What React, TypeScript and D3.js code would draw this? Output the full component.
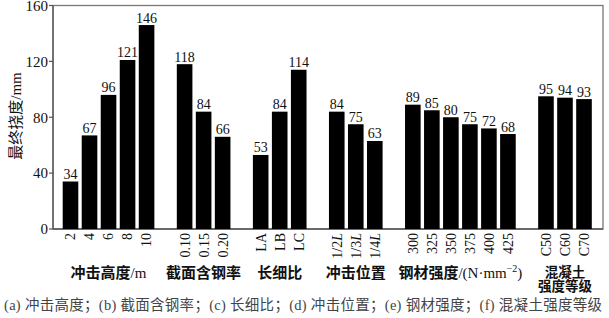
import React from "react";
import * as d3 from "d3";

const groupTitles = [["冲击高度/m"], ["截面含钢率"], ["长细比"], ["冲击位置"], ["钢材强度/(N·mm", "−2", ")"], ["混凝土", "强度等级"]];
const catHeight = ["2", "4", "6", "8", "10"];
const valHeight = [34, 67, 96, 121, 146];
const catSteelRatio = ["0.10", "0.15", "0.20"];
const valSteelRatio = [118, 84, 66];
const catSlender = ["LA", "LB", "LC"];
const valSlender = [53, 84, 114];
const catPosition = ["1/2L", "1/3L", "1/4L"];
const valPosition = [84, 75, 63];
const catStrength = ["300", "325", "350", "375", "400", "425"];
const valStrength = [89, 85, 80, 75, 72, 68];
const catConcrete = ["C50", "C60", "C70"];
const valConcrete = [95, 94, 93];
const yTicks = [0, 40, 80, 120, 160];
const yTitle = "最终挠度/mm";
const caption = "(a) 冲击高度；(b) 截面含钢率；(c) 长细比；(d) 冲击位置；(e) 钢材强度；(f) 混凝土强度等级";

const groupsCats = [catHeight, catSteelRatio, catSlender, catPosition, catStrength, catConcrete];
const groupsVals = [valHeight, valSteelRatio, valSlender, valPosition, valStrength, valConcrete];

const W = 609, H = 318;
const LATIN = "'Liberation Serif', 'Times New Roman', 'Noto Sans CJK SC', serif";

// bold only CJK runs
const cjkBold = (s: string) =>
  s.split(/([\u4e00-\u9fff]+)/).filter((p) => p.length).map((p, i) =>
    /[\u4e00-\u9fff]/.test(p) ? (
      <tspan key={i} fontWeight={600}>{p}</tspan>
    ) : (
      <tspan key={i} fontWeight={400}>{p}</tspan>
    )
  );

export default function App() {
  const bars: { cat: string; val: number; slot: number; g: number }[] = [];
  const groupSpans: { start: number; end: number }[] = [];
  let slot = 0;
  groupsCats.forEach((cats, g) => {
    const start = slot;
    cats.forEach((c, i) => {
      bars.push({ cat: c, val: groupsVals[g][i], slot, g });
      slot++;
    });
    groupSpans.push({ start, end: slot - 1 });
    slot++;
  });
  const lastSlot = slot - 2;

  const x = d3.scaleLinear().domain([0, lastSlot]).range([70.5, 584]);
  const bw = 15.6;
  const left = x(-0.92);
  const right = 603;
  const y = d3.scaleLinear().domain([0, 160]).range([229, 5.5]);

  const renderCat = (c: string) => {
    if (c.endsWith("L")) {
      return (
        <>
          {c.slice(0, -1)}
          <tspan fontStyle="italic">L</tspan>
        </>
      );
    }
    return c;
  };

  return (
    <svg width={W} height={H} style={{ position: "absolute", left: 0, top: 0, background: "#fff" }}>
      <rect x={left} y={y(160)} width={right - left} height={y(0) - y(160)} fill="none" stroke="#777" strokeWidth={1.3} />
      <line x1={left} x2={left} y1={y(160)} y2={y(0)} stroke="#555" strokeWidth={1.3} />
      <line x1={left} x2={right} y1={y(0)} y2={y(0)} stroke="#555" strokeWidth={1.3} />

      {yTicks.map((t) => (
        <g key={t}>
          <line x1={left - 4} x2={left} y1={y(t)} y2={y(t)} stroke="#555" strokeWidth={1.2} />
          <text x={left - 5} y={t === 160 ? 11 : y(t)} dy={t === 160 ? 0 : "0.35em"} textAnchor="end" fontFamily={LATIN} fontSize={15} fill="#111">
            {t}
          </text>
        </g>
      ))}

      <text
        transform={`translate(${21},${116}) rotate(-90)`}
        textAnchor="middle"
        fontFamily={LATIN}
        fontSize={15}
        fill="#111"
      >
        {yTitle}
      </text>

      {bars.map((b, i) => (
        <g key={i}>
          <rect x={x(b.slot) - bw / 2} y={y(b.val)} width={bw} height={y(0) - y(b.val)} fill="#000" />
          <text x={x(b.slot)} y={y(b.val) - 2.5} textAnchor="middle" fontFamily={LATIN} fontSize={14} fill="#111">
            {b.val}
          </text>
          <text
            transform={`translate(${x(b.slot)},${233}) rotate(-90)`}
            textAnchor="end"
            dy="0.35em"
            fontFamily={LATIN}
            fontSize={14}
            fill="#111"
          >
            {renderCat(b.cat)}
          </text>
        </g>
      ))}

      {groupSpans.map((s, g) => {
        const cx = (x(s.start) + x(s.end)) / 2;
        const t = groupTitles[g];
        if (g === 4) {
          return (
            <text key={g} x={cx} y={278} textAnchor="middle" fontFamily={LATIN} fontSize={15} fill="#111">
              {cjkBold(t[0])}
              <tspan fontSize={10} dy={-6}>{t[1]}</tspan>
              <tspan dy={6}>{t[2]}</tspan>
            </text>
          );
        }
        if (g === 5) {
          return (
            <text key={g} textAnchor="middle" fontFamily={LATIN} fontSize={13.5} fontWeight={600} fill="#111">
              <tspan x={cx} y={277}>{t[0]}</tspan>
              <tspan x={cx} y={291}>{t[1]}</tspan>
            </text>
          );
        }
        return (
          <text key={g} x={cx} y={278} textAnchor="middle" fontFamily={LATIN} fontSize={15} fill="#111">
            {cjkBold(t[0])}
          </text>
        );
      })}

      <text x={4} y={310} fontFamily={LATIN} fontSize={14.5} fill="#444" textLength={598} lengthAdjust="spacing">
        {caption}
      </text>
    </svg>
  );
}
